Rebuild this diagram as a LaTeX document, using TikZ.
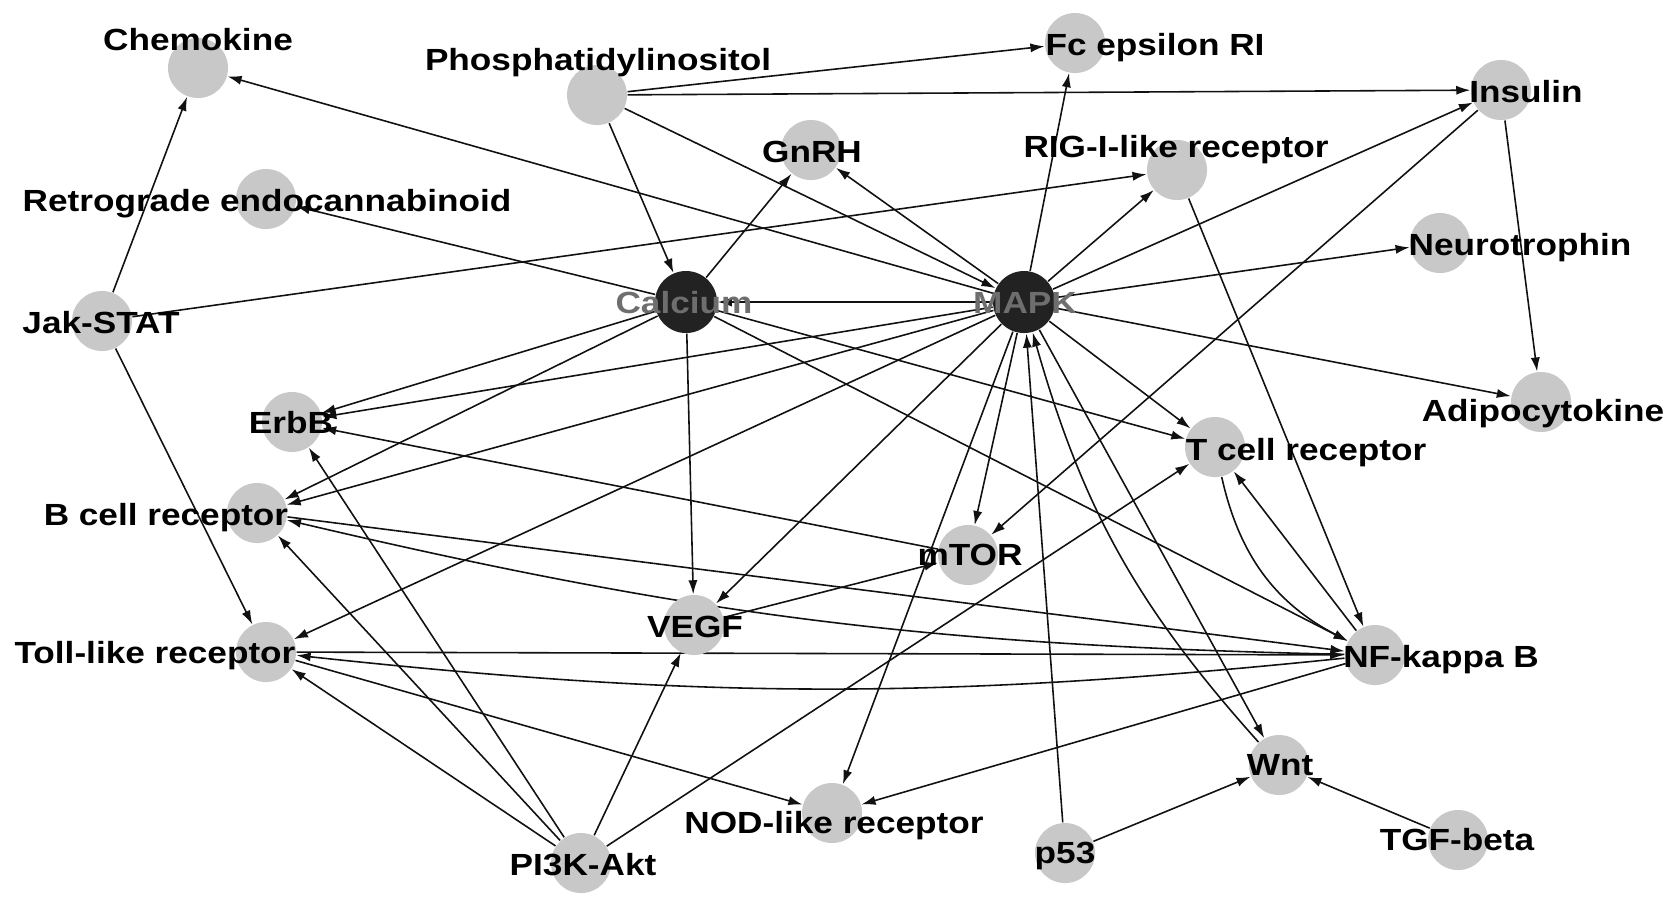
\documentclass[tikz,border=0pt]{standalone}
\usepackage{fontspec}
\setmainfont{Liberation Sans}
\newfontfamily\lblfont{Liberation Sans}[FakeStretch=1.15]
\usetikzlibrary{arrows.meta}
\definecolor{pwInk}{HTML}{111111}
\definecolor{pwFill}{HTML}{C8C8C8}
\definecolor{pwHub}{HTML}{222222}
\definecolor{pwHubText}{HTML}{6E6E6E}
\pgfdeclarelayer{edges}
\pgfsetlayers{edges,main}

\begin{document}
\begin{tikzpicture}[x=0.01cm, y=-0.01cm, >={Latex[length=4pt,width=2.6pt]},
  pw/.style={circle, fill=pwFill, minimum size=0.6cm, inner sep=0pt},
  hub/.style={circle, fill=pwHub, minimum size=0.62cm, inner sep=0pt},
  lbl/.style={font=\lblfont\bfseries\fontsize{8.7}{10}\selectfont, anchor=base, inner sep=0pt},
  hublbl/.style={lbl, text=pwHubText},
  link/.style={->, line width=0.45pt, pwInk}]
  \useasboundingbox (0,0) rectangle (1677,908);

  % pathway nodes
  \node[pw] (chemo) at (198,68) {};
  \node[pw] (phos) at (597,95) {};
  \node[pw] (fce) at (1075,43) {};
  \node[pw] (insulin) at (1501,90) {};
  \node[pw] (gnrh) at (811,150) {};
  \node[pw] (rig) at (1177,170) {};
  \node[pw] (retro) at (266,199) {};
  \node[pw] (neuro) at (1440,243) {};
  \node[pw] (jak) at (102,321) {};
  \node[hub] (calcium) at (686,302) {};
  \node[hub] (mapk) at (1024,302) {};
  \node[pw] (erbb) at (292,422) {};
  \node[pw] (adipo) at (1541,402) {};
  \node[pw] (tcell) at (1215,447) {};
  \node[pw] (bcell) at (257,513) {};
  \node[pw] (mtor) at (968,555) {};
  \node[pw] (vegf) at (694,625) {};
  \node[pw] (toll) at (266,652) {};
  \node[pw] (nfkb) at (1375,655) {};
  \node[pw] (wnt) at (1279,765) {};
  \node[pw] (nod) at (832,813) {};
  \node[pw] (p53) at (1065,853) {};
  \node[pw] (tgf) at (1458,840) {};
  \node[pw] (pi3k) at (581,863) {};

  % labels
  \node[lbl] (chemo-t) at (198,50) {Chemokine};
  \node[lbl] (phos-t) at (598,70) {Phosphatidylinositol};
  \node[lbl] (fce-t) at (1155,55) {Fc epsilon RI};
  \node[lbl] (insulin-t) at (1526,102) {Insulin};
  \node[lbl] (gnrh-t) at (812,162) {GnRH};
  \node[lbl] (rig-t) at (1176,157) {RIG-I-like receptor};
  \node[lbl] (retro-t) at (267,211) {Retrograde endocannabinoid};
  \node[lbl] (neuro-t) at (1520,255) {Neurotrophin};
  \node[lbl] (jak-t) at (101,333) {Jak-STAT};
  \node[hublbl] (calcium-t) at (684,313) {Calcium};
  \node[hublbl] (mapk-t) at (1025,313) {MAPK};
  \node[lbl] (erbb-t) at (291,433) {ErbB};
  \node[lbl] (adipo-t) at (1543,421) {Adipocytokine};
  \node[lbl] (tcell-t) at (1306,460) {T cell receptor};
  \node[lbl] (bcell-t) at (166,525) {B cell receptor};
  \node[lbl] (mtor-t) at (970,565) {mTOR};
  \node[lbl] (vegf-t) at (695,637) {VEGF};
  \node[lbl] (toll-t) at (155,663) {Toll-like receptor};
  \node[lbl] (nfkb-t) at (1441,667) {NF-kappa B};
  \node[lbl] (wnt-t) at (1280,775) {Wnt};
  \node[lbl] (nod-t) at (834,833) {NOD-like receptor};
  \node[lbl] (p53-t) at (1065,863) {p53};
  \node[lbl] (tgf-t) at (1457,850) {TGF-beta};
  \node[lbl] (pi3k-t) at (583,875) {PI3K-Akt};

  \begin{pgfonlayer}{edges}
  % top row
  \draw[link] (phos) -- (fce); \draw[link] (phos) -- (insulin);
  \draw[link] (phos) -- (calcium); \draw[link] (phos) -- (mapk);
  \draw[link] (mapk) -- (chemo); \draw[link] (jak) -- (chemo);
  \draw[link] (jak) -- (rig); \draw[link] (jak) -- (toll);
  \draw[link] (calcium) -- (retro); \draw[link] (calcium) -- (gnrh);
  \draw[link] (mapk) -- (gnrh); \draw[link] (mapk) -- (calcium);
  % out of MAPK
  \draw[link] (mapk) -- (rig); \draw[link] (mapk) -- (fce);
  \draw[link] (mapk) -- (insulin); \draw[link] (mapk) -- (neuro);
  \draw[link] (mapk) -- (adipo); \draw[link] (mapk) -- (erbb);
  \draw[link] (mapk) -- (bcell); \draw[link] (mapk) -- (toll);
  \draw[link] (mapk) -- (vegf); \draw[link] (mapk) -- (mtor);
  \draw[link] (mapk) -- (nod); \draw[link] (mapk) -- (tcell);
  \draw[link] (mapk) -- (wnt);
  % out of Calcium
  \draw[link] (calcium) -- (erbb); \draw[link] (calcium) -- (bcell);
  \draw[link] (calcium) -- (vegf); \draw[link] (calcium) -- (tcell);
  \draw[link] (calcium) -- (nfkb);
  % right side
  \draw[link] (insulin) -- (adipo); \draw[link] (insulin) -- (mtor);
  \draw[link] (rig) -- (nfkb); \draw[link] (mtor) -- (erbb);
  \draw[link] (vegf) -- (mtor);
  % PI3K-Akt
  \draw[link] (pi3k) -- (erbb); \draw[link] (pi3k) -- (bcell);
  \draw[link] (pi3k) -- (toll); \draw[link] (pi3k) -- (vegf);
  \draw[link] (pi3k) -- (tcell);
  % NF-kappa B
  \draw[link] (bcell) -- (nfkb); \draw[link] (nfkb) to[bend left=6] (bcell);
  \draw[link] (toll) -- (nfkb); \draw[link] (nfkb) to[bend left=6] (toll);
  \draw[link] (nfkb) -- (tcell); \draw[link] (tcell) to[bend right=25] (nfkb);
  \draw[link] (toll) -- (nod); \draw[link] (nfkb) -- (nod);
  % bottom
  \draw[link] (p53) -- (mapk); \draw[link] (wnt) to[bend left=13] (mapk);
  \draw[link] (p53) -- (wnt); \draw[link] (tgf) -- (wnt);
  \end{pgfonlayer}
\end{tikzpicture}
\end{document}
